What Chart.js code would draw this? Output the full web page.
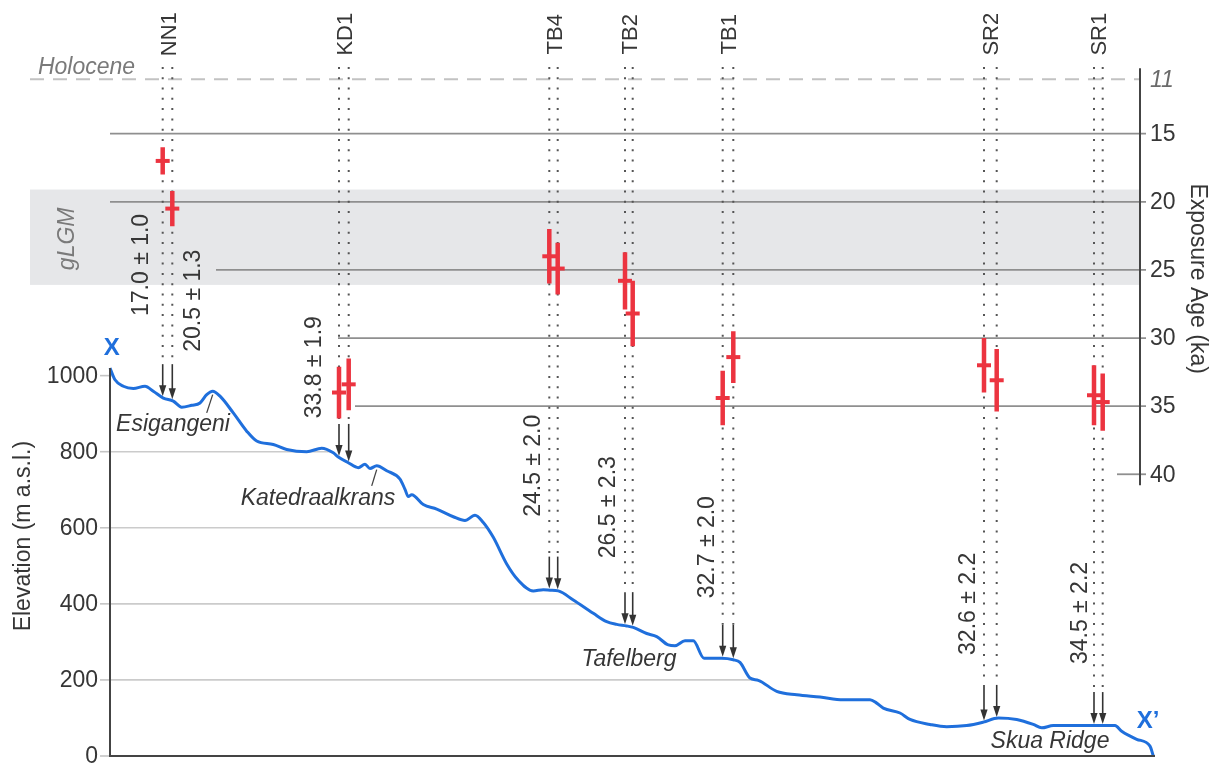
<!DOCTYPE html>
<html>
<head>
<meta charset="utf-8">
<script src="https://cdn.jsdelivr.net/npm/chart.js@4/dist/chart.umd.min.js"></script>
<style>
  html, body { margin: 0; padding: 0; background: #fff; }
  canvas { display: block; }
</style>
</head>
<body>
<canvas id="profile" width="1213" height="767"></canvas>
<script>
// Topographic profile X–X' : distance along the section (km) and elevation (m a.s.l.)
const profileDistance = [
  0, 0.05, 0.133, 0.233, 0.35, 0.433, 0.533, 0.633, 0.717, 0.817,
  0.9, 0.967, 1.027, 1.10, 1.233, 1.367, 1.467, 1.633, 1.767, 1.967,
  2.117, 2.233, 2.283, 2.383, 2.483, 2.55, 2.60, 2.667, 2.767, 2.90,
  2.95, 2.983, 3.017, 3.133, 3.267, 3.433, 3.55, 3.65, 3.733, 3.833,
  3.967, 4.083, 4.233, 4.333, 4.40, 4.483, 4.633, 4.833, 4.967, 5.067,
  5.167, 5.233, 5.367, 5.467, 5.583, 5.65, 5.75, 5.833, 5.94, 6.117,
  6.233, 6.30, 6.40, 6.483, 6.667, 6.867, 7.10, 7.333, 7.60, 7.667,
  7.733, 7.90, 8.00, 8.20, 8.367, 8.567, 8.733, 8.883, 9.067, 9.233,
  9.317, 9.433, 9.833, 10.05, 10.117, 10.267, 10.40, 10.433
];
const profileElevation = [
  1020, 989, 972, 966, 972, 959, 941, 933, 917, 922,
  928, 950, 959, 946, 902, 854, 828, 819, 806, 800,
  809, 797, 786, 771, 758, 767, 756, 763, 750, 728,
  701, 682, 687, 661, 649, 629, 619, 633, 614, 575,
  505, 462, 434, 437, 436, 434, 410, 375, 353, 346,
  342, 338, 322, 314, 292, 290, 303, 303, 257, 257,
  253, 246, 205, 199, 170, 161, 155, 148, 148, 139,
  126, 113, 96, 83, 77, 80, 89, 100, 96, 83,
  74, 80, 80, 80, 65, 44, 26, 0
];

// Sampling sites and the two samples taken at each
const siteNames = ['NN1', 'KD1', 'TB4', 'TB2', 'TB1', 'SR2', 'SR1'];
const sampleSite = [0, 0, 1, 1, 2, 2, 3, 3, 4, 4, 5, 5, 6, 6];
const sampleDistance = [0.527, 0.623, 2.29, 2.387, 4.393, 4.477, 5.15, 5.227, 6.127, 6.233, 8.74, 8.867, 9.84, 9.927];
const sampleAge = [17.0, 20.5, 34.0, 33.4, 24.0, 24.9, 25.8, 28.2, 34.4, 31.4, 32.0, 33.1, 34.2, 34.7];
const sampleError = [1.0, 1.3, 1.9, 1.9, 2.0, 1.9, 2.1, 2.4, 2.0, 1.9, 2.0, 2.3, 2.2, 2.1];

// Reported exposure ages (single samples at NN1, site means elsewhere), ka
const reportedAge = [17.0, 20.5, 33.8, 24.5, 26.5, 32.7, 32.6, 34.5];
const reportedError = [1.0, 1.3, 1.9, 2.0, 2.3, 2.0, 2.2, 2.2];

// Axes
const elevationTicks = [0, 200, 400, 600, 800, 1000];
const ageTicks = [11, 15, 20, 25, 30, 35, 40];
const holoceneBoundary = 11;      // ka
const gLGMPeriod = [19.1, 26.1];  // ka

// ---- layout (data coordinates) ----
const X_MIN = -0.8, X_MAX = 10.45;
const ELEV_MAX = 1882.35;
const AGE_MIN = 8.124, AGE_MAX = 60.68;
const AGE_AXIS_AT = 10.30;           // km, where the age axis stands
const AGE_AXIS_SPAN = [10.2, 40.8];  // ka
const ageLineFrom = { 15: 0, 20: 0, 25: 1.06, 30: 2.28, 35: 2.45, 40: 10.07 };
const reportedAt = [[0.315, 1291], [0.84, 1197], [2.05, 1022], [4.24, 763], [4.99, 654], [5.98, 549], [8.59, 400], [9.71, 376]];
const siteLabelAge = 7.7;
const dottedTopAge = 10.1;
const placeNames = [
  { text: 'Esigangeni', at: [0.63, 871], leader: [[0.967, 902], [1.027, 950]] },
  { text: 'Katedraalkrans', at: [2.08, 677], leader: [[2.617, 710], [2.667, 753]] },
  { text: 'Tafelberg', at: [5.19, 254] },
  { text: 'Skua Ridge', at: [9.40, 39] }
];
const endLabels = [{ text: 'X', at: [0.017, 1071] }, { text: 'X\u2019', at: [10.38, 92] }];

const BLUE = '#1f6fdc';
const RED = '#ec3440';
const INK = '#363636';
const FONT = '"Liberation Sans", Arial, sans-serif';

function elevationAt(d) {
  for (let i = 1; i < profileDistance.length; i++) {
    if (d <= profileDistance[i]) {
      const t = (d - profileDistance[i - 1]) / (profileDistance[i] - profileDistance[i - 1]);
      return profileElevation[i - 1] + t * (profileElevation[i] - profileElevation[i - 1]);
    }
  }
  return profileElevation[profileElevation.length - 1];
}

function fmt(v, e) { return v.toFixed(1) + ' \u00b1 ' + e.toFixed(1); }

function rotatedText(ctx, text, x, y, angle) {
  ctx.save();
  ctx.translate(x, y);
  ctx.rotate(angle);
  ctx.textAlign = 'center';
  ctx.textBaseline = 'middle';
  ctx.fillText(text, 0, 0);
  ctx.restore();
}

// error bars: one segment per sample, separated by gaps
const errorBarPoints = [];
sampleDistance.forEach((d, i) => {
  errorBarPoints.push({ x: d, y: sampleAge[i] - sampleError[i] });
  errorBarPoints.push({ x: d, y: sampleAge[i] + sampleError[i] });
  errorBarPoints.push({ x: d, y: null });
});

const decor = {
  id: 'decor',
  beforeDatasetsDraw(chart) {
    const { ctx } = chart;
    const { x, yElev, yAge } = chart.scales;
    const X = v => x.getPixelForValue(v);
    const E = v => yElev.getPixelForValue(v);
    const A = v => yAge.getPixelForValue(v);
    const axisX = X(AGE_AXIS_AT);
    ctx.save();

    // gLGM band
    ctx.fillStyle = '#e6e7e9';
    ctx.fillRect(X(X_MIN), A(gLGMPeriod[0]), axisX - X(X_MIN), A(gLGMPeriod[1]) - A(gLGMPeriod[0]));

    // age grid lines
    ctx.strokeStyle = '#8f8f8f';
    ctx.lineWidth = 1.8;
    ageTicks.forEach(t => {
      if (t === holoceneBoundary) return;
      const y = A(t);
      ctx.beginPath();
      ctx.moveTo(X(ageLineFrom[t]), y);
      ctx.lineTo(axisX + 6, y);
      ctx.stroke();
    });

    // Holocene boundary
    ctx.strokeStyle = '#c2c2c2';
    ctx.lineWidth = 2;
    ctx.setLineDash([14, 9]);
    ctx.beginPath();
    ctx.moveTo(X(X_MIN), A(holoceneBoundary));
    ctx.lineTo(axisX, A(holoceneBoundary));
    ctx.stroke();
    ctx.setLineDash([]);

    // elevation grid, visible only beneath the ground surface
    const pts = chart.getDatasetMeta(0).data;
    ctx.save();
    ctx.beginPath();
    ctx.moveTo(pts[0].x, pts[0].y);
    pts.forEach(p => ctx.lineTo(p.x, p.y));
    ctx.lineTo(pts[pts.length - 1].x, E(0));
    ctx.lineTo(pts[0].x, E(0));
    ctx.closePath();
    ctx.clip();
    ctx.strokeStyle = '#cbcbcb';
    ctx.lineWidth = 1.6;
    elevationTicks.forEach(t => {
      if (t === 0) return;
      ctx.beginPath();
      ctx.moveTo(X(0), E(t));
      ctx.lineTo(X(X_MAX), E(t));
      ctx.stroke();
    });
    ctx.restore();

    // sample verticals: dotted guide and arrow down to the surface
    const tips = sampleDistance.map(d => E(elevationAt(d)) - 1.5);
    const siteTop = siteNames.map((_, s) => {
      const ys = tips.filter((_, i) => sampleSite[i] === s);
      return Math.min(...ys) - 32;
    });
    sampleDistance.forEach((d, i) => {
      const px = X(d);
      const yStart = siteTop[sampleSite[i]];
      ctx.strokeStyle = '#555';
      ctx.lineWidth = 2;
      ctx.setLineDash([2, 8.3]);
      ctx.beginPath();
      ctx.moveTo(px, A(dottedTopAge));
      ctx.lineTo(px, yStart);
      ctx.stroke();
      ctx.setLineDash([]);
      ctx.strokeStyle = '#333';
      ctx.fillStyle = '#333';
      ctx.lineWidth = 1.6;
      ctx.beginPath();
      ctx.moveTo(px, yStart);
      ctx.lineTo(px, tips[i] - 8);
      ctx.stroke();
      ctx.beginPath();
      ctx.moveTo(px - 3.6, tips[i] - 11);
      ctx.lineTo(px + 3.6, tips[i] - 11);
      ctx.lineTo(px, tips[i]);
      ctx.closePath();
      ctx.fill();
    });
    ctx.restore();
  },
  afterDatasetsDraw(chart) {
    const { ctx } = chart;
    const { x, yElev, yAge } = chart.scales;
    const X = v => x.getPixelForValue(v);
    const E = v => yElev.getPixelForValue(v);
    const A = v => yAge.getPixelForValue(v);
    const axisX = X(AGE_AXIS_AT);
    ctx.save();

    // elevation axis
    ctx.strokeStyle = '#c4c4c4';
    ctx.lineWidth = 1.6;
    elevationTicks.forEach(t => {
      ctx.beginPath();
      ctx.moveTo(X(0) - 10, E(t));
      ctx.lineTo(X(0), E(t));
      ctx.stroke();
    });
    ctx.strokeStyle = '#444';
    ctx.lineWidth = 2;
    ctx.beginPath();
    ctx.moveTo(X(0), E(1020));
    ctx.lineTo(X(0), E(0));
    ctx.lineTo(X(X_MAX), E(0));
    ctx.stroke();
    ctx.fillStyle = INK;
    ctx.font = '23px ' + FONT;
    ctx.textAlign = 'right';
    ctx.textBaseline = 'middle';
    elevationTicks.forEach(t => ctx.fillText(String(t), X(0) - 12, E(t) + 1));
    rotatedText(ctx, 'Elevation (m a.s.l.)', X(-0.86), E(578), -Math.PI / 2);

    // exposure-age axis
    ctx.strokeStyle = '#444';
    ctx.lineWidth = 2;
    ctx.beginPath();
    ctx.moveTo(axisX, A(AGE_AXIS_SPAN[0]));
    ctx.lineTo(axisX, A(AGE_AXIS_SPAN[1]));
    ctx.stroke();
    ctx.textAlign = 'left';
    ageTicks.forEach(t => {
      if (t === holoceneBoundary) {
        ctx.fillStyle = '#6a6a6a';
        ctx.font = 'italic 23px ' + FONT;
      } else {
        ctx.fillStyle = INK;
        ctx.font = '23px ' + FONT;
      }
      ctx.fillText(String(t), axisX + 10, A(t) + 1);
    });
    ctx.fillStyle = INK;
    ctx.font = '23px ' + FONT;
    rotatedText(ctx, 'Exposure Age (ka)', X(10.87), A(25.64), Math.PI / 2);

    // period labels
    ctx.fillStyle = '#7a7a7a';
    ctx.font = 'italic 23px ' + FONT;
    rotatedText(ctx, 'Holocene', X(-0.235), A(10.13), 0);
    rotatedText(ctx, 'gLGM', X(-0.425), A(22.72), -Math.PI / 2);

    // site names
    ctx.fillStyle = INK;
    ctx.font = '22px ' + FONT;
    siteNames.forEach((name, s) => {
      const ds = sampleDistance.filter((_, i) => sampleSite[i] === s);
      const mid = (ds[0] + ds[1]) / 2 + 0.02;
      rotatedText(ctx, name, X(mid), A(siteLabelAge), -Math.PI / 2);
    });

    // reported ages
    ctx.font = '23px ' + FONT;
    reportedAge.forEach((v, i) => {
      rotatedText(ctx, fmt(v, reportedError[i]), X(reportedAt[i][0]), E(reportedAt[i][1]), -Math.PI / 2);
    });

    // place names along the profile
    ctx.font = 'italic 23px ' + FONT;
    ctx.strokeStyle = '#444';
    ctx.lineWidth = 1.3;
    placeNames.forEach(p => {
      rotatedText(ctx, p.text, X(p.at[0]), E(p.at[1]), 0);
      if (p.leader) {
        ctx.beginPath();
        ctx.moveTo(X(p.leader[0][0]), E(p.leader[0][1]));
        ctx.lineTo(X(p.leader[1][0]), E(p.leader[1][1]));
        ctx.stroke();
      }
    });

    // section end labels
    ctx.fillStyle = BLUE;
    ctx.font = 'bold 24px ' + FONT;
    endLabels.forEach(l => rotatedText(ctx, l.text, X(l.at[0]), E(l.at[1]), 0));
    ctx.restore();
  }
};

new Chart(document.getElementById('profile'), {
  type: 'line',
  data: {
    datasets: [
      {
        label: 'Profile X\u2013X\u2019',
        data: profileDistance.map((d, i) => ({ x: d, y: profileElevation[i] })),
        yAxisID: 'yElev',
        borderColor: BLUE,
        borderWidth: 3,
        pointRadius: 0,
        cubicInterpolationMode: 'monotone',
        fill: false
      },
      {
        label: 'Exposure age \u00b1 1\u03c3',
        data: errorBarPoints,
        yAxisID: 'yAge',
        borderColor: RED,
        borderWidth: 4.5,
        borderCapStyle: 'butt',
        pointRadius: 0,
        spanGaps: false,
        tension: 0
      },
      {
        type: 'scatter',
        label: 'Exposure age',
        data: sampleDistance.map((d, i) => ({ x: d, y: sampleAge[i] })),
        yAxisID: 'yAge',
        pointStyle: 'line',
        pointRadius: 7,
        pointBorderWidth: 4,
        pointBorderColor: RED,
        borderColor: RED,
        backgroundColor: RED
      }
    ]
  },
  options: {
    responsive: false,
    animation: false,
    devicePixelRatio: 1,
    events: [],
    layout: { padding: { left: 30, right: 58, top: 40, bottom: 7 } },
    plugins: { legend: { display: false }, tooltip: { enabled: false } },
    scales: {
      x: { type: 'linear', min: X_MIN, max: X_MAX, display: false },
      yElev: { type: 'linear', position: 'left', min: 0, max: ELEV_MAX, display: false },
      yAge: { type: 'linear', position: 'right', reverse: true, min: AGE_MIN, max: AGE_MAX, display: false }
    }
  },
  plugins: [decor]
});
</script>
</body>
</html>
